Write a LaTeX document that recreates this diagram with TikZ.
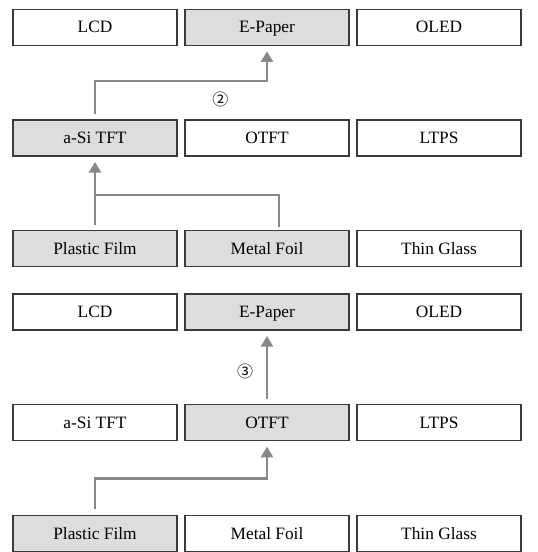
\documentclass[tikz,border=0pt]{standalone}
\usepackage{fontspec}
\setmainfont{Liberation Serif}
\newfontfamily\cjk{Noto Sans CJK KR}
\usepackage{xcolor}
\definecolor{flxedge}{HTML}{3A3A3A}
\definecolor{flxsel}{HTML}{DDDDDD}
\definecolor{flxarrow}{HTML}{888888}
\usetikzlibrary{arrows.meta,positioning}
\tikzset{
  flxbox/.style={draw=flxedge,line width=0.9pt,fill=white,minimum width=123pt,minimum height=27pt,inner sep=0pt,outer sep=0pt,text height=10.5pt,text depth=2pt,font=\fontsize{13}{15}\selectfont},
  flxpick/.style={flxbox,fill=flxsel},
  flxflow/.style={-{Triangle[length=8pt,width=9pt]},draw=flxarrow,line width=2.2pt,shorten <=4.5pt,shorten >=4.5pt},
  flxjoin/.style={draw=flxarrow,line width=1.6pt,shorten <=3pt},
  flxnum/.style={font=\cjk\fontsize{12}{14}\selectfont,inner sep=0pt},
}
\begin{document}
\begin{tikzpicture}[node distance=56pt and 6pt]
\useasboundingbox (-71.25pt,20.5pt) rectangle (331.5pt,-393.5pt);

% case 2
\node[flxbox] (lcdA){LCD};
\node[flxpick,right=of lcdA] (epA){E-Paper};
\node[flxbox,right=of epA] (oledA){OLED};
\node[flxpick,below=of lcdA] (asiA){a-Si TFT};
\node[flxbox,right=of asiA] (otftA){OTFT};
\node[flxbox,right=of otftA] (ltpsA){LTPS};
\node[flxpick,below=of asiA] (plA){Plastic Film};
\node[flxpick,right=of plA] (mfA){Metal Foil};
\node[flxbox,right=of mfA] (tgA){Thin Glass};
\draw[flxflow](asiA.north)--++(0,29.25pt)-|(epA.south);
\node[flxnum] at (94pt,-54pt) (numA){②};
\draw[flxjoin]([xshift=9pt]mfA.north)--++(0,27pt)-|([yshift=-28.5pt]asiA.south);
\draw[flxflow](plA.north)--(asiA.south);

% case 3
\node[flxbox,below=20.5pt of plA] (lcdB){LCD};
\node[flxpick,right=of lcdB] (epB){E-Paper};
\node[flxbox,right=of epB] (oledB){OLED};
\node[flxbox,below=of lcdB] (asiB){a-Si TFT};
\node[flxpick,right=of asiB] (otftB){OTFT};
\node[flxbox,right=of otftB] (ltpsB){LTPS};
\node[flxpick,below=of asiB] (plB){Plastic Film};
\node[flxbox,right=of plB] (mfB){Metal Foil};
\node[flxbox,right=of mfB] (tgB){Thin Glass};
\draw[flxflow](otftB.north)--(epB.south);
\node[flxnum] at (112.5pt,-258pt) (numB){③};
\draw[flxflow](plB.north)--++(0,27.75pt)-|(otftB.south);
\end{tikzpicture}
\end{document}
